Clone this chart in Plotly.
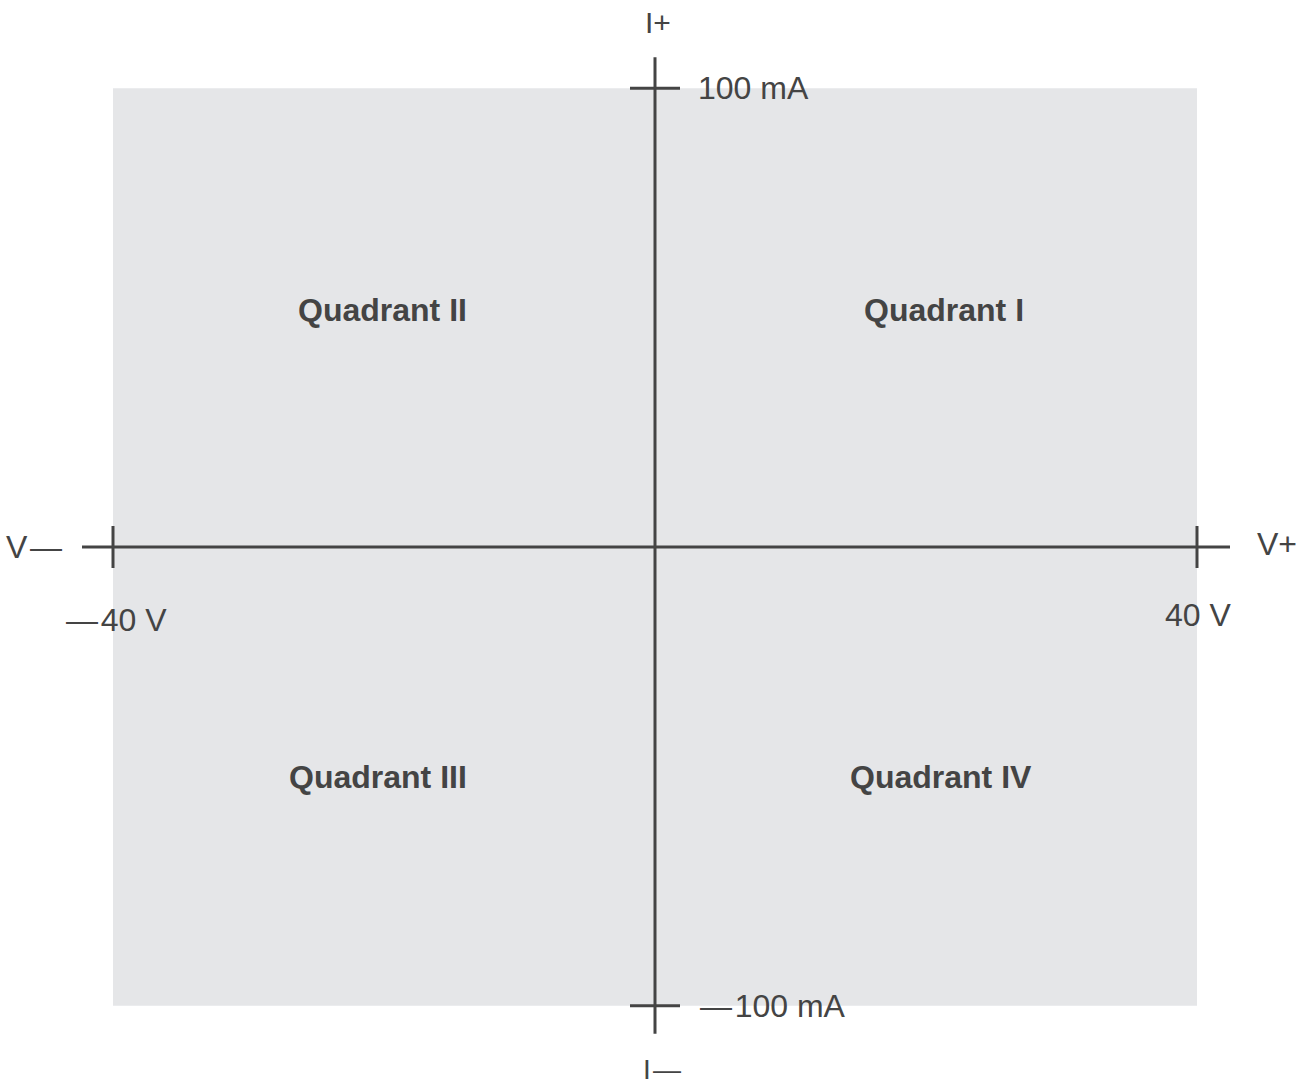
import plotly.graph_objects as go

# ---- data ----
v_limits = [-40, 40]          # V
i_limits = [-100, 100]        # mA
v_tick_labels = ["—\u200a40 V", "40 V"]
i_tick_labels = ["—\u200a100 mA", "100 mA"]
axis_end_labels = ["V\u200a—", "V+", "I\u200a—", "I+"]
quadrant_names = ["Quadrant I", "Quadrant II", "Quadrant III", "Quadrant IV"]
quadrant_signs = [(1, 1), (-1, 1), (-1, -1), (1, -1)]

W, H = 1310, 1086
LINE = "#444444"
TXT = "#444444"
FILL = "#e5e6e8"
FONT = "Liberation Sans, Arial, Helvetica, sans-serif"

px_per_v = (1197 - 113) / (v_limits[1] - v_limits[0])
px_per_ma = (1006.7 - 89.3) / (i_limits[1] - i_limits[0])
x0px, y0px = 655, 547
xr = [(0 - x0px) / px_per_v, (W - x0px) / px_per_v]
yr = [-(H - y0px) / px_per_ma, y0px / px_per_ma]

def dx(p):
    return p / px_per_v

def dy(p):
    return p / px_per_ma

vmin, vmax = v_limits
imin, imax = i_limits

fig = go.Figure()
fig.add_trace(go.Scatter(x=[vmin, vmax], y=[imin, imax], mode="markers",
                         marker=dict(opacity=0), hoverinfo="skip", showlegend=False))

shapes = [dict(type="rect", x0=vmin, x1=vmax, y0=imin, y1=imax,
               fillcolor=FILL, line=dict(width=0), layer="below")]
lw = 3
shapes.append(dict(type="line", x0=vmin - dx(31), x1=vmax + dx(33), y0=0, y1=0,
                   line=dict(color=LINE, width=lw)))
shapes.append(dict(type="line", x0=0, x1=0, y0=imin - dy(28), y1=imax + dy(31),
                   line=dict(color=LINE, width=lw)))
for v in v_limits:
    shapes.append(dict(type="line", x0=v, x1=v, y0=-dy(21), y1=dy(21),
                       line=dict(color=LINE, width=lw)))
for i in i_limits:
    shapes.append(dict(type="line", x0=-dx(25), x1=dx(25), y0=i, y1=i,
                       line=dict(color=LINE, width=lw)))

ann = []
def A(x, y, t, xanchor="center", size=32, bold=False):
    ann.append(dict(x=x, y=y, text=(f"<b>{t}</b>" if bold else t), showarrow=False,
                    xanchor=xanchor, yanchor="middle", borderpad=0,
                    font=dict(family=FONT, size=size, color=TXT)))

# tick labels
A(vmin + dx(3), -dy(73), v_tick_labels[0])
A(vmax + dx(1), -dy(68), v_tick_labels[1])
A(dx(44), imin, i_tick_labels[0], xanchor="left")
A(dx(42), imax, i_tick_labels[1], xanchor="left")
# axis end labels
A(-dx(655 - 34), 0, axis_end_labels[0])
A(dx(1277 - 655), dy(3), axis_end_labels[1])
A(dx(7), -dy(1069 - 547), axis_end_labels[2], size=28)
A(dx(3), dy(547 - 22), axis_end_labels[3], size=30)
# quadrant labels
nudges = [18, -2, -6, 15]
for name, (sx, sy), n in zip(quadrant_names, quadrant_signs, nudges):
    A(sx * vmax / 2 + dx(n), sy * imax / 2 + (dy(8) if sy > 0 else -dy(1)),
      name, size=32, bold=True)

fig.update_layout(
    width=W, height=H, margin=dict(l=0, r=0, t=0, b=0),
    paper_bgcolor="white", plot_bgcolor="white",
    xaxis=dict(range=xr, visible=False, fixedrange=True),
    yaxis=dict(range=yr, visible=False, fixedrange=True),
    shapes=shapes, annotations=ann, showlegend=False,
)
fig.write_html("out.html", config={"displayModeBar": False},
               post_script="document.body.style.margin='0';document.body.style.overflow='hidden';")
